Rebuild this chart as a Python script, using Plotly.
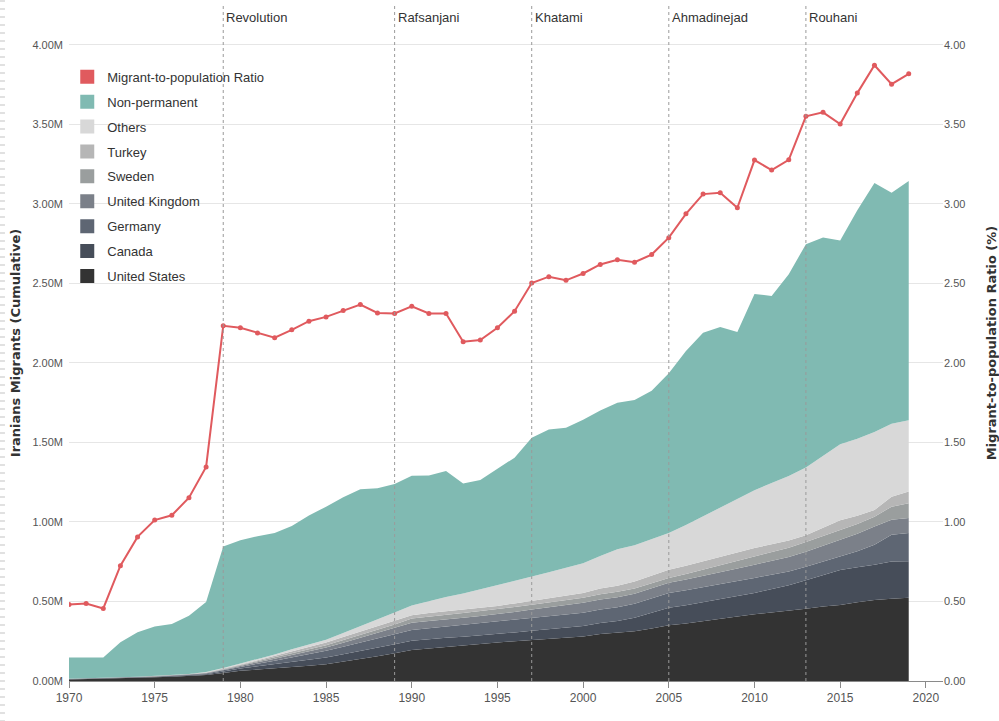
import plotly.graph_objects as go

years = list(range(1970, 2020))

united_states = [0.010, 0.012, 0.014, 0.017, 0.020, 0.023, 0.027, 0.031, 0.037, 0.050,
                 0.065, 0.072, 0.079, 0.087, 0.096, 0.106, 0.122, 0.138, 0.155, 0.175,
                 0.195, 0.205, 0.215, 0.222, 0.232, 0.242, 0.250, 0.258, 0.264, 0.271,
                 0.279, 0.295, 0.305, 0.312, 0.330, 0.350, 0.362, 0.375, 0.390, 0.405,
                 0.419, 0.430, 0.440, 0.454, 0.468, 0.478, 0.495, 0.510, 0.517, 0.523]
canada = [0.002, 0.002, 0.002, 0.003, 0.003, 0.003, 0.004, 0.004, 0.006, 0.010,
          0.014, 0.020, 0.026, 0.032, 0.037, 0.042, 0.046, 0.050, 0.053, 0.056,
          0.058, 0.058, 0.057, 0.056, 0.054, 0.053, 0.055, 0.058, 0.061, 0.064,
          0.067, 0.070, 0.073, 0.085, 0.098, 0.110, 0.115, 0.120, 0.125, 0.130,
          0.135, 0.148, 0.162, 0.180, 0.200, 0.220, 0.220, 0.221, 0.235, 0.230]
germany = [0.001, 0.001, 0.001, 0.002, 0.002, 0.002, 0.003, 0.003, 0.004, 0.007,
           0.011, 0.017, 0.023, 0.029, 0.036, 0.042, 0.048, 0.054, 0.059, 0.063,
           0.067, 0.069, 0.071, 0.073, 0.075, 0.077, 0.078, 0.079, 0.080, 0.082,
           0.083, 0.084, 0.085, 0.088, 0.091, 0.094, 0.094, 0.094, 0.094, 0.094,
           0.094, 0.090, 0.087, 0.084, 0.083, 0.083, 0.100, 0.125, 0.167, 0.177]
united_kingdom = [0.001, 0.001, 0.001, 0.001, 0.001, 0.001, 0.002, 0.002, 0.003, 0.004,
                  0.006, 0.009, 0.012, 0.015, 0.018, 0.020, 0.025, 0.030, 0.036, 0.041,
                  0.046, 0.046, 0.047, 0.047, 0.048, 0.048, 0.051, 0.054, 0.057, 0.060,
                  0.063, 0.063, 0.063, 0.063, 0.063, 0.063, 0.067, 0.071, 0.075, 0.079,
                  0.083, 0.087, 0.090, 0.094, 0.099, 0.104, 0.110, 0.115, 0.094, 0.094]
sweden = [0.000, 0.000, 0.000, 0.000, 0.001, 0.001, 0.001, 0.001, 0.002, 0.003,
          0.004, 0.006, 0.008, 0.011, 0.013, 0.015, 0.016, 0.018, 0.019, 0.021,
          0.027, 0.028, 0.029, 0.030, 0.031, 0.031, 0.031, 0.031, 0.031, 0.031,
          0.031, 0.033, 0.035, 0.034, 0.032, 0.031, 0.035, 0.040, 0.044, 0.048,
          0.052, 0.055, 0.059, 0.062, 0.062, 0.063, 0.062, 0.062, 0.083, 0.094]
turkey = [0.000, 0.000, 0.000, 0.000, 0.000, 0.001, 0.001, 0.001, 0.002, 0.003,
          0.004, 0.006, 0.009, 0.012, 0.015, 0.017, 0.020, 0.022, 0.025, 0.027,
          0.021, 0.021, 0.021, 0.021, 0.021, 0.021, 0.023, 0.025, 0.027, 0.029,
          0.031, 0.036, 0.038, 0.043, 0.048, 0.052, 0.052, 0.053, 0.053, 0.053,
          0.053, 0.050, 0.046, 0.042, 0.052, 0.062, 0.052, 0.042, 0.062, 0.073]
others = [0.000, 0.000, 0.000, 0.000, 0.000, 0.001, 0.001, 0.002, 0.003, 0.004,
          0.006, 0.008, 0.010, 0.013, 0.015, 0.018, 0.024, 0.031, 0.039, 0.047,
          0.061, 0.075, 0.088, 0.101, 0.115, 0.129, 0.140, 0.152, 0.163, 0.175,
          0.186, 0.205, 0.229, 0.229, 0.230, 0.230, 0.255, 0.282, 0.310, 0.337,
          0.364, 0.385, 0.405, 0.427, 0.452, 0.478, 0.484, 0.490, 0.459, 0.448]
non_permanent = [0.134, 0.132, 0.130, 0.221, 0.279, 0.310, 0.319, 0.366, 0.439, 0.765,
                 0.775, 0.772, 0.763, 0.776, 0.810, 0.836, 0.855, 0.862, 0.826, 0.808,
                 0.815, 0.790, 0.793, 0.692, 0.687, 0.734, 0.776, 0.872, 0.898, 0.880,
                 0.902, 0.914, 0.921, 0.913, 0.933, 1.005, 1.095, 1.155, 1.134, 1.048,
                 1.233, 1.176, 1.269, 1.403, 1.372, 1.281, 1.437, 1.566, 1.452, 1.505]
migrant_ratio = [0.481, 0.487, 0.456, 0.725, 0.906, 1.012, 1.042, 1.152, 1.346, 2.233,
                 2.221, 2.188, 2.158, 2.208, 2.262, 2.289, 2.329, 2.367, 2.314, 2.311,
                 2.356, 2.311, 2.311, 2.133, 2.144, 2.221, 2.325, 2.502, 2.542, 2.519,
                 2.562, 2.619, 2.648, 2.633, 2.681, 2.787, 2.937, 3.061, 3.069, 2.975,
                 3.275, 3.212, 3.277, 3.550, 3.575, 3.502, 3.696, 3.871, 3.752, 3.817]

event_years = [1979, 1989, 1997, 2005, 2013]
event_labels = ["Revolution", "Rafsanjani", "Khatami", "Ahmadinejad", "Rouhani"]

y_tick_vals = [0, 0.5, 1, 1.5, 2, 2.5, 3, 3.5, 4]
y_left_labels = ["0.00M", "0.50M", "1.00M", "1.50M", "2.00M", "2.50M", "3.00M", "3.50M", "4.00M"]
y_right_labels = ["0.00", "0.50", "1.00", "1.50", "2.00", "2.50", "3.00", "3.50", "4.00"]
x_tick_vals = [1970, 1975, 1980, 1985, 1990, 1995, 2000, 2005, 2010, 2015, 2020]

stack_series = [
    ("United States", united_states, "#333333"),
    ("Canada", canada, "#464d59"),
    ("Germany", germany, "#5e6673"),
    ("United Kingdom", united_kingdom, "#7b8089"),
    ("Sweden", sweden, "#9a9e9e"),
    ("Turkey", turkey, "#b6b6b6"),
    ("Others", others, "#d8d8d8"),
    ("Non-permanent", non_permanent, "#80bab2"),
]
ratio_name = "Migrant-to-population Ratio"
ratio_color = "#e05a5e"

SANS = "Liberation Sans, Arial, sans-serif"

fig = go.Figure()

for name, vals, color in stack_series:
    fig.add_trace(go.Scatter(
        x=years, y=vals, name=name, stackgroup="one", mode="lines",
        line=dict(width=0, color=color), fillcolor=color, showlegend=False,
    ))

fig.add_trace(go.Scatter(
    x=years, y=migrant_ratio, name=ratio_name, yaxis="y2", mode="lines+markers",
    line=dict(color=ratio_color, width=2), marker=dict(size=5, color=ratio_color),
    showlegend=False,
))

# legend swatches (square markers, order as in the reference)
legend_items = [(ratio_name, ratio_color)] + [(n, c) for n, _, c in reversed(stack_series)]
for i, (name, color) in enumerate(legend_items):
    fig.add_trace(go.Scatter(
        x=[None], y=[None], mode="markers", name=name, legendgroup=f"g{i}",
        marker=dict(symbol="square", size=14, color=color), showlegend=True,
    ))

shapes = []
annotations = []
for yr, lab in zip(event_years, event_labels):
    shapes.append(dict(type="line", xref="x", yref="paper", x0=yr, x1=yr, y0=0, y1=1,
                       line=dict(color="#9a9a9a", width=1, dash="dot"), layer="above"))
    annotations.append(dict(x=yr, xref="x", y=0.982, yref="paper", text=lab,
                            showarrow=False, xanchor="left", yanchor="middle", xshift=1,
                            font=dict(family=SANS, size=13, color="#333333")))

# faint dashed ruler on the far left edge
shapes.append(dict(type="line", xref="paper", yref="paper", x0=-0.0761, x1=-0.0761,
                   y0=-0.06, y1=1.008, line=dict(color="#c4c4c4", width=5, dash="1px,7px")))

fig.update_layout(
    width=999, height=721,
    margin=dict(l=69, r=56, t=5, b=40, autoexpand=False),
    paper_bgcolor="white", plot_bgcolor="white",
    showlegend=True,
    legend=dict(x=-0.002, y=0.916, xanchor="left", yanchor="top", tracegroupgap=5,
                font=dict(family=SANS, size=13, color="#333333"),
                bgcolor="rgba(0,0,0,0)", itemwidth=30),
    shapes=shapes, annotations=annotations,
    xaxis=dict(range=[1970, 2021], tickmode="array", tickvals=x_tick_vals, automargin=False,
               showgrid=False, zeroline=False, showline=True, linecolor="#8a8a8a", linewidth=1,
               ticks="outside", ticklen=6, tickcolor="#8a8a8a",
               tickfont=dict(family=SANS, size=12, color="#555555")),
    yaxis=dict(range=[0, 4.25], tickmode="array", tickvals=y_tick_vals, ticktext=y_left_labels,
               automargin=False, showgrid=True, gridcolor="#e6e6e6", gridwidth=1,
               zeroline=False, showline=False, ticks="", ticklabelstandoff=5,
               tickfont=dict(family=SANS, size=11, color="#555555"),
               title=dict(text="Iranians Migrants (Cumulative)", standoff=8,
                          font=dict(family="DejaVu Sans", size=13, color="#333333", weight="bold"))),
    yaxis2=dict(range=[0, 4.25], overlaying="y", side="right", tickmode="array",
                tickvals=y_tick_vals, ticktext=y_right_labels, automargin=False,
                showgrid=False, zeroline=False, showline=False, ticks="",
                tickfont=dict(family=SANS, size=11, color="#555555"),
                title=dict(text="Migrant-to-population Ratio (%)", standoff=26,
                           font=dict(family="DejaVu Sans", size=13, color="#333333", weight="bold"))),
)

fig.write_html("out.html", config={"displayModeBar": False},
               post_script="document.body.style.margin='0px';")
